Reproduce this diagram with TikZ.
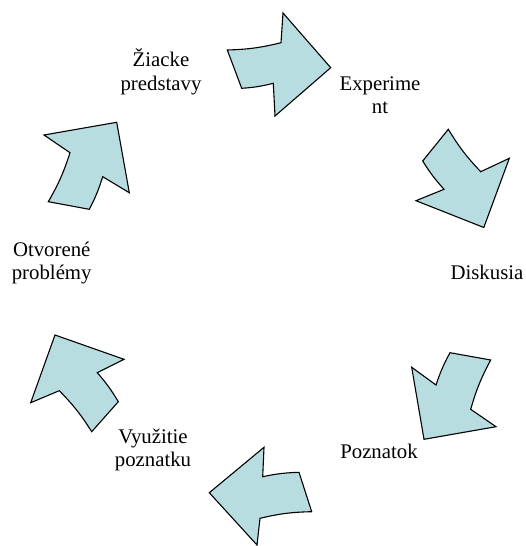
\documentclass[tikz,border=0pt]{standalone}
\usepackage{fontspec}
\setmainfont{Liberation Serif}
\newfontfamily\lblfont{Liberation Serif}
\definecolor{arrowblue}{RGB}{183,221,225}

\begin{document}
\begin{tikzpicture}[x=1pt, y=-1pt,
    blockarrow/.style={fill=arrowblue, draw=black, line width=1.1pt, line join=miter},
    outerarc/.style={bend right=6},
    innerarc/.style={bend left=5},
    lbl/.style={font=\lblfont\fontsize{20.8}{23.3}\selectfont, align=center, anchor=base, inner sep=0pt}]

    \useasboundingbox (0,0) rectangle (525,546);

    % Labels round the cycle (base = last line)
    \node[lbl] (ziacke) at (161,90) {Žiacke\\predstavy};
    \node[lbl] (experiment) at (380,113.3) {Experime\\nt};
    \node[lbl] (diskusia) at (487,279.3) {Diskusia};
    \node[lbl] (poznatok) at (379,458.3) {Poznatok};
    \node[lbl] (vyuzitie) at (153,466.7) {Využitie\\poznatku};
    \node[lbl] (otvorene) at (51.7,279.6) {Otvorené\\problémy};

    % Top arrow
    \filldraw[blockarrow] (227.3,50) to[outerarc] (281,42.7) -- (283,13) -- (330.7,67.7)
        -- (275,116) -- (273.3,83.3) to[innerarc] (241.7,88.3) -- cycle;

    % Upper right arrow
    \filldraw[blockarrow] (448.3,129.3) to[outerarc] (480.7,171.7) -- (509.3,158.3) -- (483.8,227.5)
        -- (416,200.7) -- (444,189.3) to[innerarc] (422.7,161) -- cycle;

    % Lower right arrow
    \filldraw[blockarrow] (490.7,360) to[outerarc] (470.7,409.3) -- (496,426.7) -- (424,439.3)
        -- (411.7,367.3) -- (436,385) to[innerarc] (450,352.7) -- cycle;

    % Bottom arrow
    \filldraw[blockarrow] (311.7,511.7) to[outerarc] (260,518.3) -- (257,545) -- (209.3,492.7)
        -- (264,447.3) -- (262.7,476.7) to[innerarc] (299,472.3) -- cycle;

    % Lower left arrow
    \filldraw[blockarrow] (91.7,431.7) to[outerarc] (59.3,390.7) -- (30.7,402.7) -- (55,335)
        -- (124,359.3) -- (97.3,372.7) to[innerarc] (118.3,401.7) -- cycle;

    % Upper left arrow
    \filldraw[blockarrow] (48.3,201.7) to[outerarc] (70,152.7) -- (44,135) -- (116.7,122.3)
        -- (129.3,192.7) -- (102.7,176.7) to[innerarc] (89.3,209.3) -- cycle;
\end{tikzpicture}
\end{document}
